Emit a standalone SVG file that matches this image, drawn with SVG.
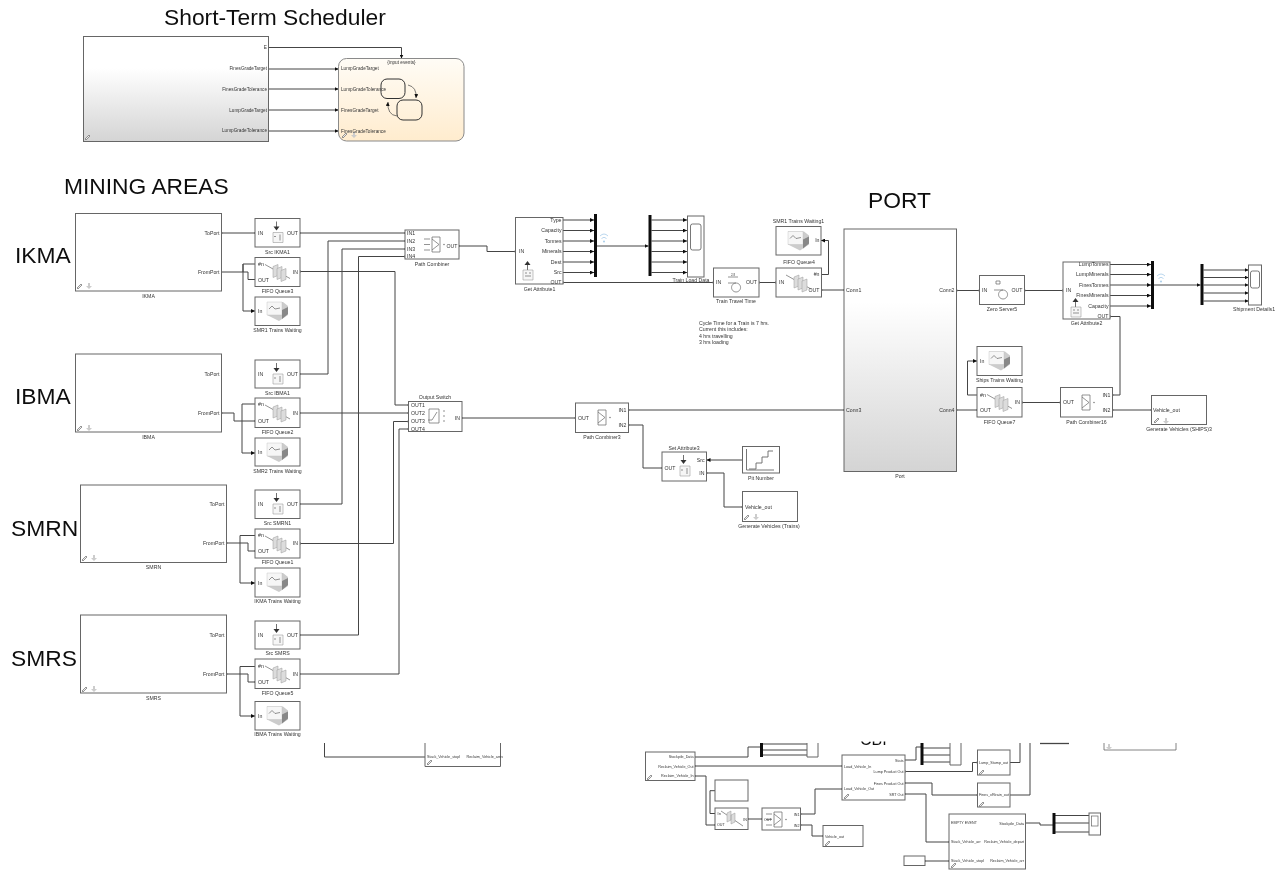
<svg xmlns="http://www.w3.org/2000/svg" width="1281" height="871" viewBox="0 0 1281 871">
<style>
text{font-family:"Liberation Sans",Arial,sans-serif;fill:#333;font-size:5.2px}
.h{font-size:22.800px;fill:#111}
.s{font-size:4.7px}
.x{font-size:3.7px}
.m{text-anchor:middle}
.e{text-anchor:end}
.b{fill:#fff;stroke:#666;stroke-width:1}
.g{fill:url(#gr);stroke:#666;stroke-width:1}
.w{fill:none;stroke:#444;stroke-width:1}
.ar{marker-end:url(#a)}
.pp{marker-start:url(#p);marker-end:url(#p)}
.bar{fill:#111}
.wifi{fill:none;stroke:#a9cdea;stroke-width:.8}
.ic{fill:#dcdcdc;stroke:#999;stroke-width:.5}
.ib{fill:#f6f6f6;stroke:#888;stroke-width:.5}
.il{fill:none;stroke:#666;stroke-width:.7}
</style>
<defs>
<linearGradient id="gr" x1="0" y1="0" x2="0" y2="1"><stop offset=".3" stop-color="#fff"/><stop offset="1" stop-color="#d4d4d4"/></linearGradient>
<linearGradient id="or" x1="0" y1="0" x2="0" y2="1"><stop offset="0" stop-color="#fffcf6"/><stop offset="1" stop-color="#ffecce"/></linearGradient>
<filter id="soft" filterUnits="userSpaceOnUse" x="0" y="0" width="1281" height="871"><feGaussianBlur stdDeviation=".6"/></filter>
<clipPath id="cut"><rect x="850" y="741.500" width="50" height="6"/></clipPath>
<marker id="a" markerUnits="userSpaceOnUse" markerWidth="4" markerHeight="4" refX="4" refY="2" orient="auto"><path d="M0 0L4 2L0 4z" fill="#111"/></marker>
<marker id="p" markerUnits="userSpaceOnUse" markerWidth="3" markerHeight="3" refX="1.500" refY="1.500"><rect x=".5" y=".5" width="2" height="2" fill="#777"/></marker>
<g id="iSrc"><path class="il" d="M21.500 3V9" style="stroke:#333"/><path d="M18.500 8H24.500L21.500 12z" fill="#333"/><path class="ib" d="M18 14H28V24H18z"/><path class="il" d="M19 18H21M25 16V22"/></g>
<g id="iSnk"><path class="il" d="M21.500 12V5" style="stroke:#333"/><path d="M18.500 7H24.500L21.500 3z" fill="#333"/><path class="ib" d="M17 12H27V22H17z"/><path class="il" d="M19 15H21M19 18H25M24 14V16"/></g>
<g id="iQ"><path class="il" d="M10 7L35 21"/><path class="ic" d="M18 9L23 7V18L18 20z"/><path class="ic" d="M22 11L27 9V20L22 22z"/><path class="ic" d="M26 13L31 11V22L26 24z"/></g>
<g id="iW"><path d="M12 5H28L33 9V18L24 24L12 18z" fill="#ccc"/><path d="M12 5H27V18H12z" fill="#f6f6f6" stroke="#bbb" stroke-width=".4"/><path class="il" d="M14 12L17 9L20 12L25 11"/><path d="M27 13L33 10V17L27 22z" fill="#888"/></g>
<g id="iC"><path class="il" d="M17 7H25V22H17zM17 9L24 14.500L17 20M9 9H15M9 14.500H15M9 20H15"/><circle cx="29" cy="14.500" r=".7" fill="#666"/></g>
<g id="iC2"><path class="il" d="M17 7H25V22H17zM17 9L24 14.500L17 20"/><circle cx="29" cy="14.500" r=".7" fill="#666"/></g>
<g id="iSw"><path class="il" d="M12 6H22V20H12zM11 17H15L20 9"/><circle cx="27" cy="8" r=".7" fill="#666"/><circle cx="27" cy="13" r=".7" fill="#666"/><circle cx="27" cy="18" r=".7" fill="#666"/></g>
<g id="iPen"><path d="M0 5L4 1L5 2L1 6z" fill="#eee" stroke="#555" stroke-width=".6"/></g>
<g id="iDown"><path d="M3 0H5V3H7L4 6L1 3H3z" fill="#ccc"/></g>
</defs>
<g filter="url(#soft)">
<rect width="1281" height="871" fill="#fff"/>
<g id="titles">
<text class="h" x="164" y="25">Short-Term Scheduler</text>
<text class="h" x="64" y="193.500">MINING AREAS</text>
<text class="h" x="868" y="208">PORT</text>
<text class="h" x="15" y="263">IKMA</text>
<text class="h" x="15" y="404">IBMA</text>
<text class="h" x="11" y="535.500">SMRN</text>
<text class="h" x="11" y="666">SMRS</text>
<text x="860" y="745" clip-path="url(#cut)" style="font-size:16px;fill:#111">CBI</text>
</g>
<g id="connectors">
<path class="w ar" d="M268.500 47.500H401.500V58.500"/>
<path class="w ar" d="M268.500 69H338.500"/>
<path class="w ar" d="M268.500 89H338.500"/>
<path class="w ar" d="M268.500 110H338.500"/>
<path class="w ar" d="M268.500 131H338.500"/>
<path class="w pp" d="M221.500 233H255"/>
<path class="w pp" d="M300 233H405"/>
<path class="w pp" d="M300 374H328V241H405"/>
<path class="w pp" d="M300 504H342V249H405"/>
<path class="w pp" d="M300 635H358.500V256.500H405"/>
<path class="w pp" d="M300 271.500H395V405H408.500"/>
<path class="w pp" d="M300 413H408.500"/>
<path class="w pp" d="M300 543.500H393.500V421.500H408.500"/>
<path class="w pp" d="M300 674H399V429H408.500"/>
<path class="w" d="M221.500 272H248V279.500H255M255 264H243V272"/>
<path class="w ar" d="M243 264V311H255"/>
<path class="w pp" d="M221.500 413H234V421H255"/>
<path class="w" d="M255 404H242V453"/>
<path class="w ar" d="M242 453H255"/>
<path class="w pp" d="M226.500 543H248V551H255"/>
<path class="w" d="M255 535.500H240V583"/>
<path class="w ar" d="M240 583H255"/>
<path class="w pp" d="M226.500 674H248V682H255"/>
<path class="w" d="M255 666.500H240V716"/>
<path class="w ar" d="M240 716H255"/>
<path class="w pp" d="M459 246H487V251.500H515.500"/>
<path class="w ar" d="M563 220H594"/>
<path class="w ar" d="M563 230.500H594"/>
<path class="w ar" d="M563 241H594"/>
<path class="w ar" d="M563 251.500H594"/>
<path class="w ar" d="M563 262H594"/>
<path class="w ar" d="M563 272.500H594"/>
<path class="w ar" d="M597 246H648.500"/>
<path class="w ar" d="M651.500 220H687"/>
<path class="w ar" d="M651.500 230.500H687"/>
<path class="w ar" d="M651.500 241H687"/>
<path class="w ar" d="M651.500 251.500H687"/>
<path class="w ar" d="M651.500 262H687"/>
<path class="w ar" d="M651.500 272.500H687"/>
<path class="w pp" d="M563 282.500H713.500"/>
<path class="w pp" d="M759 282.500H776"/>
<path class="w pp" d="M821.500 290H844"/>
<path class="w ar" d="M821.500 274.500H828.500V240.500H821"/>
<path class="w pp" d="M956.500 290.500H979.500"/>
<path class="w pp" d="M1024.500 290.500H1063"/>
<path class="w ar" d="M1110 264.500H1151"/>
<path class="w ar" d="M1110 274.500H1151"/>
<path class="w ar" d="M1110 285H1151"/>
<path class="w ar" d="M1110 295.500H1151"/>
<path class="w ar" d="M1110 306H1151"/>
<path class="w ar" d="M1154 285H1200.500"/>
<path class="w ar" d="M1203.500 270H1248.500"/>
<path class="w ar" d="M1203.500 277.500H1248.500"/>
<path class="w ar" d="M1203.500 285H1248.500"/>
<path class="w ar" d="M1203.500 293H1248.500"/>
<path class="w ar" d="M1203.500 301H1248.500"/>
<path class="w pp" d="M1110 316.500H1120V395H1112.500"/>
<path class="w pp" d="M1112.500 410H1151.500"/>
<path class="w pp" d="M1022 402.500H1060.500"/>
<path class="w pp" d="M956.500 410H977"/>
<path class="w ar" d="M977 395H967.500V361H977"/>
<path class="w pp" d="M844 410H628.500"/>
<path class="w pp" d="M462 418H575.500"/>
<path class="w pp" d="M628.500 425H643V468H662"/>
<path class="w ar" d="M742.500 460H706.500"/>
<path class="w pp" d="M706.500 473H724V507H742.500"/>
<path class="w" d="M324.500 743V757H425"/>
<path class="w" d="M695 757H748V747H760"/>
<path class="w pp" d="M695 766H842"/>
<path class="w pp" d="M695 776H706V825H715"/>
<path class="w" d="M715 790.700H710V813.500H715"/>
<path class="w pp" d="M748 819H762"/>
<path class="w pp" d="M800.500 814H815V789H842"/>
<path class="w pp" d="M800.500 825H812V836H823"/>
<path class="w" d="M763 744H807M763 750H807M763 755H807"/>
<path class="w" d="M905 760H916V747H922"/>
<path class="w" d="M923 748H950M923 755H950M923 762H950"/>
<path class="w pp" d="M905 771.500H972.500V762.500H977.500"/>
<path class="w" d="M1010 762.500H1020V743"/>
<path class="w pp" d="M905 783H932V795H977.500"/>
<path class="w" d="M1010 795H1030V743"/>
<path class="w pp" d="M905 794H926V842H949"/>
<path class="w pp" d="M925 861H949"/>
<path class="w" d="M1025.500 823H1040V825H1053"/>
<path class="w" d="M1055 815.500H1089M1055 823H1089M1055 832H1089"/>
<path class="w" d="M1040 743.500H1069" style="stroke-width:1.300"/>
</g>
<g id="scheduler"><rect class="g" x="83.500" y="36.500" width="185" height="105"/><use href="#iPen" x="85" y="134"/>
<text class="s e" x="267" y="48.500">E</text>
<text class="s e" x="267" y="70">FinesGradeTarget</text>
<text class="s e" x="267" y="90.500">FinesGradeTolerance</text>
<text class="s e" x="267" y="111.500">LumpGradeTarget</text>
<text class="s e" x="267" y="132">LumpGradeTolerance</text></g>
<g id="chart"><rect x="338.500" y="58.500" width="125.500" height="82.500" rx="8" fill="url(#or)" stroke="#8a8a8a"/>
<rect x="381" y="79" width="24" height="19.500" rx="6" fill="none" stroke="#333" stroke-width="1"/>
<rect x="397" y="100" width="25" height="20" rx="6" fill="none" stroke="#333" stroke-width="1"/>
<path class="w ar" d="M408 85Q417 87 416 98" style="stroke-width:.7"/><path class="w ar" d="M397 116Q387 115 388 102" style="stroke-width:.7"/>
<use href="#iPen" x="342" y="132"/><use href="#iDown" x="350" y="132"/>
<text class="s m" x="401.500" y="63.500">{input events}</text>
<text class="s" x="341" y="70">LumpGradeTarget</text>
<text class="s" x="341" y="91">LumpGradeTolerance</text>
<text class="s" x="341" y="111.500">FinesGradeTarget</text>
<text class="s" x="341" y="132.500">FinesGradeTolerance</text></g>

<g id="IKMA"><rect class="b" x="75.500" y="213.500" width="146" height="77.500"/><use href="#iPen" x="77" y="283"/><use href="#iDown" x="85" y="283"/><text class="e" x="219.500" y="234.500">ToPort</text><text class="e" x="219.500" y="273.500">FromPort</text><text class="m" x="148.500" y="297.500">IKMA</text></g>
<g id="IBMA"><rect class="b" x="75.500" y="354" width="146" height="78"/><use href="#iPen" x="77" y="425"/><use href="#iDown" x="85" y="425"/><text class="e" x="219.500" y="375.500">ToPort</text><text class="e" x="219.500" y="414.500">FromPort</text><text class="m" x="148.500" y="438.500">IBMA</text></g>
<g id="SMRN"><rect class="b" x="80.500" y="485" width="146" height="77.500"/><use href="#iPen" x="82" y="555"/><use href="#iDown" x="90" y="555"/><text class="e" x="224.500" y="505.500">ToPort</text><text class="e" x="224.500" y="544.500">FromPort</text><text class="m" x="153.500" y="569">SMRN</text></g>
<g id="SMRS"><rect class="b" x="80.500" y="615" width="146" height="78"/><use href="#iPen" x="82" y="686"/><use href="#iDown" x="90" y="686"/><text class="e" x="224.500" y="636.500">ToPort</text><text class="e" x="224.500" y="675.500">FromPort</text><text class="m" x="153.500" y="699.500">SMRS</text></g>

<g id="src-ikma1"><rect class="b" x="255" y="218.500" width="45" height="28.500"/><use href="#iSrc" x="255" y="218.500"/><text x="258" y="235">IN</text><text class="e" x="298" y="235">OUT</text><text class="m" x="277.500" y="253.500">Src IKMA1</text></g>
<g id="fifo3"><rect class="b" x="255" y="257.500" width="45" height="29"/><use href="#iQ" x="255" y="257.500"/><text x="258" y="265.500">#n</text><text x="258" y="281.500">OUT</text><text class="e" x="298" y="273.500">IN</text><text class="m" x="277.500" y="292.500">FIFO Queue3</text></g>
<g id="wait1"><rect class="b" x="255" y="297" width="45" height="28.500"/><use href="#iW" x="255" y="297"/><text x="258" y="313">In</text><text class="m" x="277.500" y="332">SMR1 Trains Waiting</text></g>

<g id="src-ibma1"><rect class="b" x="255" y="360" width="45" height="28"/><use href="#iSrc" x="255" y="360"/><text x="258" y="376">IN</text><text class="e" x="298" y="376">OUT</text><text class="m" x="277.500" y="394.500">Src IBMA1</text></g>
<g id="fifo2"><rect class="b" x="255" y="398" width="45" height="29.500"/><use href="#iQ" x="255" y="398"/><text x="258" y="406">#n</text><text x="258" y="422.500">OUT</text><text class="e" x="298" y="414.500">IN</text><text class="m" x="277.500" y="434">FIFO Queue2</text></g>
<g id="wait2"><rect class="b" x="255" y="438" width="45" height="28"/><use href="#iW" x="255" y="438"/><text x="258" y="454">In</text><text class="m" x="277.500" y="472.500">SMR2 Trains Waiting</text></g>

<g id="src-smrn1"><rect class="b" x="255" y="490" width="45" height="28.500"/><use href="#iSrc" x="255" y="490"/><text x="258" y="506">IN</text><text class="e" x="298" y="506">OUT</text><text class="m" x="277.500" y="525">Src SMRN1</text></g>
<g id="fifo1"><rect class="b" x="255" y="529" width="45" height="29"/><use href="#iQ" x="255" y="529"/><text x="258" y="537">#n</text><text x="258" y="552.500">OUT</text><text class="e" x="298" y="545">IN</text><text class="m" x="277.500" y="564">FIFO Queue1</text></g>
<g id="wait3"><rect class="b" x="255" y="568" width="45" height="29"/><use href="#iW" x="255" y="568"/><text x="258" y="585">In</text><text class="m" x="277.500" y="603">IKMA Trains Waiting</text></g>

<g id="src-smrs"><rect class="b" x="255" y="621" width="45" height="28"/><use href="#iSrc" x="255" y="621"/><text x="258" y="637">IN</text><text class="e" x="298" y="637">OUT</text><text class="m" x="277.500" y="655">Src SMRS</text></g>
<g id="fifo5"><rect class="b" x="255" y="659" width="45" height="29.500"/><use href="#iQ" x="255" y="659"/><text x="258" y="668">#n</text><text x="258" y="683.500">OUT</text><text class="e" x="298" y="675.500">IN</text><text class="m" x="277.500" y="695">FIFO Queue5</text></g>
<g id="wait4"><rect class="b" x="255" y="701.500" width="45" height="28.500"/><use href="#iW" x="255" y="701.500"/><text x="258" y="718">In</text><text class="m" x="277.500" y="736">IBMA Trains Waiting</text></g>

<g id="path-combiner"><rect class="b" x="405" y="230" width="54" height="29"/><use href="#iC" x="415" y="230"/><text x="407" y="234.500">IN1</text><text x="407" y="242.500">IN2</text><text x="407" y="250.500">IN3</text><text x="407" y="258">IN4</text><text class="e" x="457.500" y="247.500">OUT</text><text class="m" x="432" y="265.500">Path Combiner</text></g>
<g id="output-switch"><rect class="b" x="408.500" y="401.500" width="53.500" height="30"/><use href="#iSw" x="417" y="403"/><text x="411" y="406.500">OUT1</text><text x="411" y="414.500">OUT2</text><text x="411" y="423">OUT3</text><text x="411" y="430.500">OUT4</text><text class="e" x="460" y="419.500">IN</text><text class="m" x="435" y="398.500">Output Switch</text></g>

<g id="get-attribute1"><rect class="b" x="515.500" y="217.500" width="47.500" height="66.500"/><use href="#iSnk" x="506" y="258"/><text x="519" y="253">IN</text><text class="e" x="561.500" y="221.500">Type</text><text class="e" x="561.500" y="232">Capacity</text><text class="e" x="561.500" y="242.500">Tonnes</text><text class="e" x="561.500" y="253">Minerals</text><text class="e" x="561.500" y="263.500">Dest</text><text class="e" x="561.500" y="274">Src</text><text class="e" x="561.500" y="284">OUT</text><text class="m" x="539.500" y="290.500">Get Attribute1</text></g>
<g id="bus1"><rect class="bar" x="594" y="214" width="3" height="63"/><path class="wifi" d="M600 236Q604 232 608 236M601.500 238.500Q604 236 606.500 238.500"/><circle cx="604" cy="241.500" r="1" fill="#a9cdea"/></g>
<g id="bus2"><rect class="bar" x="648.500" y="215" width="3" height="61"/></g>
<g id="train-load-data"><rect class="b" x="687.500" y="216" width="16.500" height="61"/><rect x="690.500" y="224" width="10.500" height="26" rx="2" fill="#fff" stroke="#555" stroke-width=".8"/><text class="m" x="691" y="282">Train Load Data</text></g>
<g id="train-travel-time"><rect class="b" x="713.500" y="268" width="45.500" height="29"/><path class="il" d="M736 283a4.500 4.500 0 1 0 .1 0M728 283H736M728 277H738"/><text x="716" y="284">IN</text><text class="e" x="757" y="284">OUT</text><text class="m" x="736" y="303">Train Travel Time</text><text class="m" x="733" y="276" style="font-size:3px">2.8</text></g>
<g id="fifo4"><rect class="b" x="776" y="268" width="45.500" height="29"/><use href="#iQ" x="776" y="268"/><text class="e" x="819.500" y="276">#n</text><text x="779" y="284">IN</text><text class="e" x="819.500" y="291.500">OUT</text><text class="m" x="799" y="264">FIFO Queue4</text></g>
<g id="wait5"><rect class="b" x="776" y="226.500" width="45" height="28.500"/><use href="#iW" x="776" y="226.500"/><text class="e" x="819.500" y="242">In</text><text class="m" x="798.500" y="223">SMR1 Trains Waiting1</text></g>
<g id="note"><text x="699" y="324.500">Cycle Time for a Train is 7 hrs.</text><text x="699" y="331">Current this includes:</text><text x="699" y="337.500">4 hrs travelling</text><text x="699" y="344">3 hrs loading</text></g>

<g id="port"><rect class="g" x="844" y="229" width="112.500" height="242.500"/><text x="846" y="292">Conn1</text><text x="846" y="411.500">Conn3</text><text class="e" x="954.500" y="292">Conn2</text><text class="e" x="954.500" y="411.500">Conn4</text><text class="m" x="900" y="478">Port</text></g>
<g id="zero-server5"><rect class="b" x="979.500" y="275.500" width="45" height="29"/><path class="il" d="M1003 290a4.500 4.500 0 1 0 .1 0M994 290H1003"/><path class="il" d="M996 281H1000V284H996z"/><text x="982" y="291.500">IN</text><text class="e" x="1022.500" y="291.500">OUT</text><text class="m" x="1002" y="311">Zero Server5</text></g>
<g id="get-attribute2"><rect class="b" x="1063" y="262" width="47" height="57"/><use href="#iSnk" x="1054" y="295"/><text x="1066" y="291.500">IN</text><text class="e" x="1108.500" y="266">LumpTonnes</text><text class="e" x="1108.500" y="276">LumpMinerals</text><text class="e" x="1108.500" y="286.500">FinesTonnes</text><text class="e" x="1108.500" y="297">FinesMinerals</text><text class="e" x="1108.500" y="307.500">Capacity</text><text class="e" x="1108.500" y="318">OUT</text><text class="m" x="1086.500" y="325">Get Attribute2</text></g>
<g id="bus3"><rect class="bar" x="1151" y="261" width="3" height="48"/><path class="wifi" d="M1157 276Q1161 272 1165 276M1158.500 278.500Q1161 276 1163.500 278.500"/><circle cx="1161" cy="281.500" r="1" fill="#a9cdea"/></g>
<g id="bus4"><rect class="bar" x="1200.500" y="264" width="3" height="41"/></g>
<g id="shipment-details1"><rect class="b" x="1248.500" y="265" width="13" height="40"/><rect x="1250.500" y="271" width="9" height="17" rx="2" fill="#fff" stroke="#555" stroke-width=".8"/><text class="m" x="1254" y="311">Shipment Details1</text></g>
<g id="ships-waiting"><rect class="b" x="977" y="346.500" width="45" height="29"/><use href="#iW" x="977" y="346.500"/><text x="980" y="363">In</text><text class="m" x="999.500" y="381.500">Ships Trains Waiting</text></g>
<g id="fifo7"><rect class="b" x="977" y="387.500" width="45" height="29.500"/><use href="#iQ" x="977" y="387.500"/><text x="980" y="396.500">#n</text><text x="980" y="411.500">OUT</text><text class="e" x="1020" y="404">IN</text><text class="m" x="999.500" y="423.500">FIFO Queue7</text></g>
<g id="path-combiner16"><rect class="b" x="1060.500" y="387.500" width="52" height="29.500"/><use href="#iC2" x="1065" y="388"/><text x="1063" y="404">OUT</text><text class="e" x="1110.500" y="396.500">IN1</text><text class="e" x="1110.500" y="411.500">IN2</text><text class="m" x="1086.500" y="423.500">Path Combiner16</text></g>
<g id="gen-ships"><rect class="b" x="1151.500" y="395.500" width="55" height="29"/><use href="#iPen" x="1154" y="417"/><use href="#iDown" x="1162" y="418"/><text x="1153" y="411.500">Vehicle_out</text><text class="m" x="1179" y="431">Generate Vehicles (SHIPS)3</text></g>

<g id="path-combiner3"><rect class="b" x="575.500" y="403" width="53" height="29.500"/><use href="#iC2" x="581" y="403"/><text x="578" y="419.500">OUT</text><text class="e" x="626.500" y="411.500">IN1</text><text class="e" x="626.500" y="426.500">IN2</text><text class="m" x="602" y="439">Path Combiner3</text></g>
<g id="set-attribute3"><rect class="b" x="662" y="452" width="44.500" height="29"/><use href="#iSrc" x="662" y="452"/><text x="664.500" y="469.500">OUT</text><text class="e" x="704.500" y="461.500">Src</text><text class="e" x="704.500" y="474.500">IN</text><text class="m" x="684" y="449.500">Set Attribute3</text></g>
<g id="pit-number"><rect class="b" x="742.500" y="446.500" width="37" height="26.500"/><path class="il" d="M746.500 449V470H774M749 469H756V463H762V457H768V451H773" style="stroke-width:.9"/><text class="m" x="761" y="479.500">Pit Number</text></g>
<g id="gen-trains"><rect class="b" x="742.500" y="491.500" width="55" height="30"/><use href="#iPen" x="744" y="514"/><use href="#iDown" x="752" y="514"/><text x="745" y="508.500">Vehicle_out</text><text class="m" x="769" y="528">Generate Vehicles (Trains)</text></g>

<g id="frag-a"><path class="b" style="fill:none" d="M425 743V766.500H500.500V743"/><use href="#iPen" x="427" y="759"/><text class="x" x="427" y="757.500">Stack_Vehicle_stopl</text><text class="x e" x="503" y="757.500">Reclaim_Vehicle_arriv</text></g>
<g id="frag-b"><path class="b" style="fill:none;stroke-width:.8" d="M1104 743V750H1176V743"/><use href="#iDown" x="1105" y="744"/></g>
<g id="block-a"><rect class="b" x="645.500" y="752" width="49.500" height="28.500"/><use href="#iPen" x="647" y="774"/><text class="x e" x="693.500" y="757.500">Stockpile_Data</text><text class="x e" x="693.500" y="767.500">Reclaim_Vehicle_Out</text><text class="x e" x="693.500" y="776.500">Reclaim_Vehicle_In</text></g>
<g id="bus5"><rect class="bar" x="760" y="743" width="3" height="14"/></g>
<g id="scope5"><path class="b" style="fill:none" d="M807 743V757H818V743"/></g>
<g id="block-b"><rect class="b" x="842" y="755" width="63" height="45"/><use href="#iPen" x="844" y="793"/><text class="x" x="844" y="767.500">Load_Vehicle_In</text><text class="x" x="844" y="789.500">Load_Vehicle_Out</text><text class="x e" x="903.500" y="761.500">Stats</text><text class="x e" x="903.500" y="773">Lump Product Out</text><text class="x e" x="903.500" y="784.500">Fines Product Out</text><text class="x e" x="903.500" y="795.500">SRT Out</text></g>
<g id="block-c"><rect class="b" x="715" y="780" width="33" height="21"/></g>
<g id="block-d"><rect class="b" x="715" y="808" width="33" height="21.500"/><path class="il" d="M721 811L743 826"/><path class="ic" d="M727 813L731 811V820L727 822zM731 815L735 813V822L731 824z"/><text class="x" x="717" y="815">#n</text><text class="x" x="717" y="826">OUT</text><text class="x e" x="747" y="820.500">IN</text></g>
<g id="block-e"><rect class="b" x="762" y="808" width="38.500" height="22"/><use href="#iC" x="757" y="805"/><text class="x" x="764" y="820.500">OUT</text><text class="x e" x="799.500" y="815.500">IN1</text><text class="x e" x="799.500" y="826.500">IN2</text></g>
<g id="block-f"><rect class="b" x="823" y="825.500" width="40" height="21"/><use href="#iPen" x="825" y="840"/><text class="x" x="825" y="837.500">Vehicle_out</text></g>
<g id="bus6"><rect class="bar" x="920.500" y="743" width="3" height="22"/></g>
<g id="scope6"><path class="b" style="fill:none" d="M950 743V765H961V743"/></g>
<g id="lump-out"><rect class="b" x="977.500" y="750" width="32.500" height="25"/><use href="#iPen" x="979" y="769"/><text class="x" x="979" y="763.500">Lump_Stump_out</text></g>
<g id="fines-out"><rect class="b" x="977.500" y="783" width="32.500" height="24"/><use href="#iPen" x="979" y="801"/><text class="x" x="979" y="796">Fines_xRtrain_out</text></g>
<g id="block-h"><rect class="b" x="949" y="814" width="76.500" height="55"/><use href="#iPen" x="951" y="862"/><text class="x" x="951" y="823.500">EMPTY EVENT</text><text class="x" x="951" y="842.500">Stack_Vehicle_arr</text><text class="x" x="951" y="861.500">Stack_Vehicle_stopl</text><text class="x e" x="1024" y="824.500">Stockpile_Data</text><text class="x e" x="1024" y="842.500">Reclaim_Vehicle_depart</text><text class="x e" x="1024" y="861.500">Reclaim_Vehicle_arr</text></g>
<g id="block-i"><rect class="b" x="904" y="856" width="21" height="9.500"/></g>
<g id="bus7"><rect class="bar" x="1052.500" y="813" width="3" height="21"/></g>
<g id="scope7"><rect class="b" x="1089" y="813" width="11.500" height="22"/><rect x="1091.500" y="816" width="6.500" height="10" fill="#fff" stroke="#666" stroke-width=".7"/></g>
</g>
</svg>
